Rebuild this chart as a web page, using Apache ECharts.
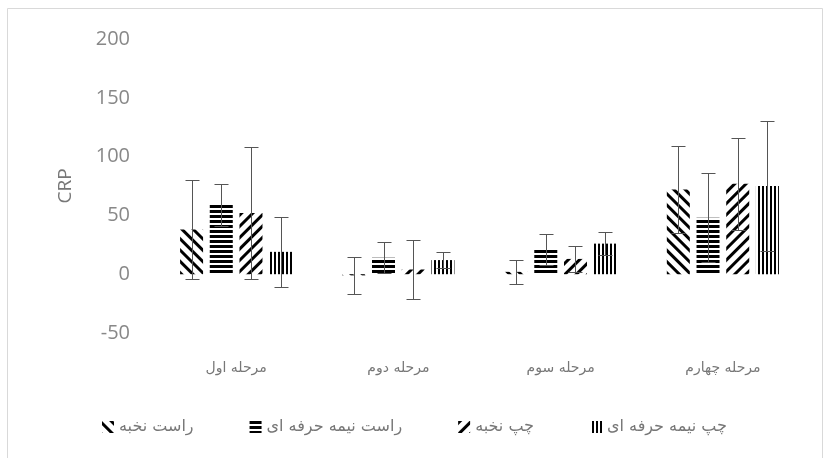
<!DOCTYPE html>
<html><head><meta charset="utf-8">
<script src="https://cdn.jsdelivr.net/npm/echarts@6/dist/echarts.min.js"></script>
<style>html,body{margin:0;padding:0;background:#fff}#c{width:830px;height:458px}</style>
</head><body><div id="c"></div>
<script>
const categories = ['مرحله اول', 'مرحله دوم', 'مرحله سوم', 'مرحله چهارم'];
const seriesNames = ['راست نخبه', 'راست نیمه حرفه ای', 'چپ نخبه', 'چپ نیمه حرفه ای'];
const rightElite = [38, -1, 2, 72];
const rightSemi = [59, 14, 21, 48];
const leftElite = [52, 4, 13, 77];
const leftSemi = [19, 12, 26, 75];
const rightEliteSD = [42, 16, 10, 37];
const rightSemiSD = [18, 13, 13, 38];
const leftEliteSD = [56, 25, 11, 39];
const leftSemiSD = [30, 7, 10, 55];
const yTicks = [-50, 0, 50, 100, 150, 200];

const means = [rightElite, rightSemi, leftElite, leftSemi];
const sds = [rightEliteSD, rightSemiSD, leftEliteSD, leftSemiSD];

const BAR_W = 23, GAP = 6.7, PITCH = BAR_W + GAP;
const decals = [
  {symbol:'rect', symbolSize:1, dashArrayX:[1,0], dashArrayY:[3,4.5], rotation:Math.PI/4, color:'#000', backgroundColor:'#fff'},
  {symbol:'rect', symbolSize:1, dashArrayX:[1,0], dashArrayY:[2.5,1.5], rotation:0, color:'#000', backgroundColor:'#fff'},
  {symbol:'rect', symbolSize:1, dashArrayX:[1,0], dashArrayY:[3,4.5], rotation:-Math.PI/4, color:'#000', backgroundColor:'#fff'},
  {symbol:'rect', symbolSize:1, dashArrayX:[1,0], dashArrayY:[2,1.5], rotation:Math.PI/2, color:'#000', backgroundColor:'#fff'}
];

const series = [];
means.forEach((m, si) => {
  series.push({
    name: seriesNames[si], type: 'bar', data: m,
    barWidth: BAR_W, barGap: (GAP / BAR_W * 100) + '%',
    itemStyle: {color: '#fff', decal: decals[si]},
    z: 2
  });
});
means.forEach((m, si) => {
  series.push({
    name: 'err' + si, type: 'custom', z: 10,
    data: m.map((v, i) => [i, v, sds[si][i]]),
    renderItem: function (params, api) {
      const ci = api.value(0), mv = api.value(1), sv = api.value(2);
      const c = api.coord([ci, mv]);
      const x = Math.round(c[0] + (si - 1.5) * PITCH) + 0.5;
      const top = Math.round(api.coord([ci, mv + sv])[1]) + 0.5;
      const bot = Math.round(api.coord([ci, mv - sv])[1]) + 0.5;
      const st = {stroke: '#555', lineWidth: 1};
      return {type: 'group', children: [
        {type: 'line', shape: {x1: x, y1: top, x2: x, y2: bot}, style: st},
        {type: 'line', shape: {x1: x - 7, y1: top, x2: x + 7, y2: top}, style: st},
        {type: 'line', shape: {x1: x - 7, y1: bot, x2: x + 7, y2: bot}, style: st}
      ]};
    }
  });
});

const chart = echarts.init(document.getElementById('c'));
chart.setOption({
  backgroundColor: '#fff',
  animation: false,
  graphic: [{type: 'rect', shape: {x: 7.5, y: 8.5, width: 815, height: 470}, style: {fill: 'none', stroke: '#d9d9d9', lineWidth: 1}, silent: true}],
  grid: {left: 155, right: 26, top: 39, bottom: 125},
  legend: {
    data: seriesNames, bottom: 18, left: 97,
    icon: 'rect', itemWidth: 12, itemHeight: 12, itemGap: 56,
    textStyle: {fontFamily: 'DejaVu Sans', fontSize: 16, color: '#777'}
  },
  xAxis: {
    type: 'category', data: categories,
    axisLine: {show: false}, axisTick: {show: false},
    axisLabel: {margin: 28, fontFamily: 'DejaVu Sans', fontSize: 14, color: '#777'}
  },
  yAxis: {
    type: 'value', min: yTicks[0], max: yTicks[yTicks.length - 1], interval: 50,
    name: 'CRP', nameLocation: 'middle', nameGap: 80, nameRotate: 90,
    nameTextStyle: {fontFamily: 'Open Sans', fontSize: 19, color: '#777'},
    axisLine: {show: false}, axisTick: {show: false}, splitLine: {show: false},
    axisLabel: {margin: 25, fontFamily: 'Open Sans', fontSize: 20, color: '#888'}
  },
  series: series
});
</script></body></html>
